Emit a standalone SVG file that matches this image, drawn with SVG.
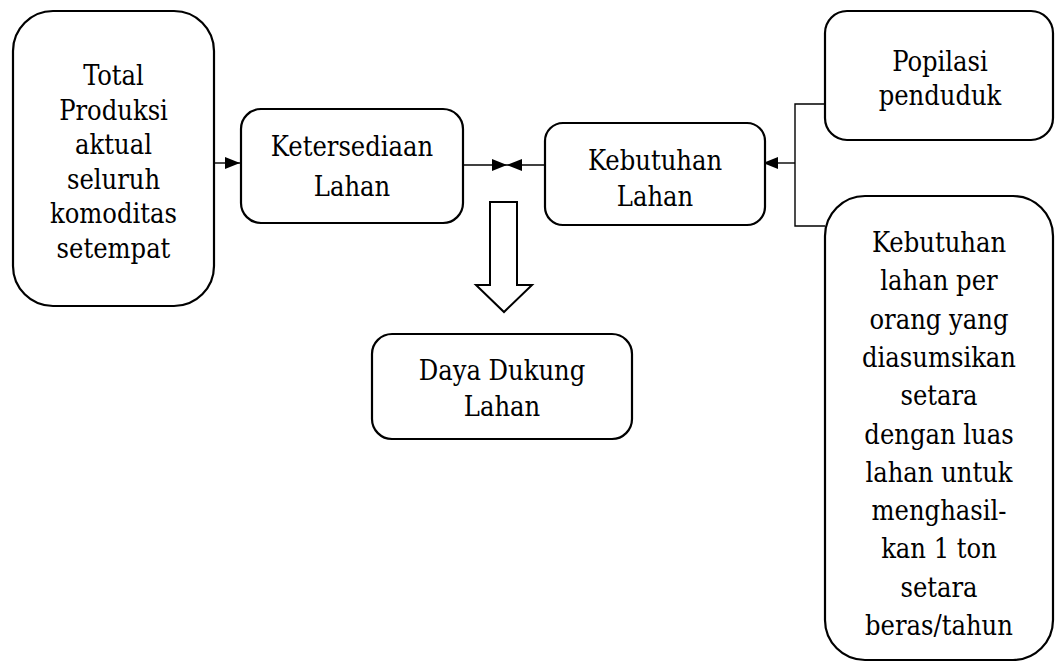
<svg xmlns="http://www.w3.org/2000/svg" width="1056" height="662" viewBox="0 0 1056 662">
<style>
.box{fill:#fff;stroke:#000;stroke-width:2.2}
.t{font-family:"DejaVu Serif Condensed","DejaVu Serif",serif;font-stretch:condensed;font-size:27px;fill:#000;text-anchor:middle}
.c{fill:none;stroke:#000;stroke-width:1.4}
</style>
<defs>
<marker id="ah" viewBox="0 0 15 12" refX="15" refY="6" markerWidth="15" markerHeight="12" markerUnits="userSpaceOnUse" orient="auto">
<path d="M0,0 L15,6 L0,12 Z" fill="#000"/>
</marker>
</defs>
<rect width="1056" height="662" fill="#fff"/>
<g id="connectors">
<line class="c" x1="214" y1="163" x2="240" y2="163" marker-end="url(#ah)"/>
<line class="c" x1="463" y1="165" x2="507" y2="165" marker-end="url(#ah)"/>
<line class="c" x1="545" y1="165" x2="507" y2="165" marker-end="url(#ah)"/>
<line class="c" x1="795" y1="163" x2="763" y2="163" marker-end="url(#ah)"/>
<polyline class="c" points="825,104 795,104 795,226 825,226"/>
<polygon points="490,202 517,202 517,285 532,285 504,312 476,285 490,285" fill="#fff" stroke="#000" stroke-width="2"/>
</g>
<g id="total-produksi">
<rect class="box" x="13" y="11" width="201" height="295" rx="40" ry="40"/>
<text class="t"><tspan x="113.5" y="85">Total</tspan><tspan x="113.5" y="119.5">Produksi</tspan><tspan x="113.5" y="154">aktual</tspan><tspan x="113.5" y="188.5">seluruh</tspan><tspan x="113.5" y="223">komoditas</tspan><tspan x="113.5" y="257.5">setempat</tspan></text>
</g>
<g id="ketersediaan-lahan">
<rect class="box" x="241" y="109" width="222" height="114" rx="20" ry="20"/>
<text class="t"><tspan x="352" y="156">Ketersediaan</tspan><tspan x="352" y="196">Lahan</tspan></text>
</g>
<g id="kebutuhan-lahan">
<rect class="box" x="545" y="123" width="220" height="102" rx="18" ry="18"/>
<text class="t"><tspan x="655" y="170">Kebutuhan</tspan><tspan x="655" y="206">Lahan</tspan></text>
</g>
<g id="popilasi-penduduk">
<rect class="box" x="825" y="11" width="228" height="129" rx="22" ry="22"/>
<text class="t"><tspan x="940" y="71">Popilasi</tspan><tspan x="940" y="105">penduduk</tspan></text>
</g>
<g id="kebutuhan-per-orang">
<rect class="box" x="825" y="196" width="228" height="464" rx="40" ry="40"/>
<text class="t"><tspan x="939" y="252">Kebutuhan</tspan><tspan x="939" y="290.3">lahan per</tspan><tspan x="939" y="328.6">orang yang</tspan><tspan x="939" y="366.9">diasumsikan</tspan><tspan x="939" y="405.2">setara</tspan><tspan x="939" y="443.5">dengan luas</tspan><tspan x="939" y="481.8">lahan untuk</tspan><tspan x="939" y="520.1">menghasil-</tspan><tspan x="939" y="558.4">kan 1 ton</tspan><tspan x="939" y="596.7">setara</tspan><tspan x="939" y="635">beras/tahun</tspan></text>
</g>
<g id="daya-dukung-lahan">
<rect class="box" x="372" y="334" width="260" height="105" rx="20" ry="20"/>
<text class="t"><tspan x="502" y="380">Daya Dukung</tspan><tspan x="502" y="416">Lahan</tspan></text>
</g>
</svg>
